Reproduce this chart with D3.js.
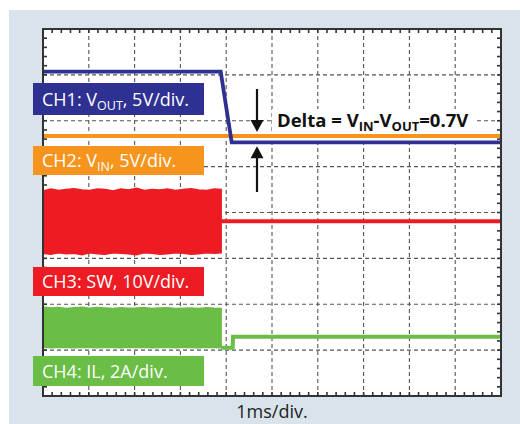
<!DOCTYPE html>
<html>
<head>
<meta charset="utf-8">
<script src="https://cdn.jsdelivr.net/npm/d3@7"></script>
<style>
  html, body { margin: 0; padding: 0; background: #ffffff; }
  svg { display: block; font-family: "Open Sans", "Noto Sans", sans-serif; }
</style>
</head>
<body>
<svg id="scope" width="520" height="424"></svg>
<script>
// ---- Scope settings ----
const timePerDiv = 1;          // ms per horizontal division
const hDivs = 10;
const vDivs = 8;
const minorPerDiv = 5;

// Channel 1 / 2 share ground position and scale so the delta reads directly
const ch12Ground = 3.27;       // divisions from bottom
const ch12Scale = 5;           // V/div
const vin = 12;                // V
const delta = 0.7;             // V, VIN - VOUT in dropout
const vout = vin - delta;      // V

// CH1: VOUT (V)
const ch1Time = [0, 3.88, 4.12, 10];
const ch1Vals = [19, 19, vout, vout];

// CH2: VIN (V)
const ch2Time = [0, 10];
const ch2Vals = [vin, vin];

// Switching envelope sample times (ms)
const bandTime = [0,0.17,0.34,0.51,0.68,0.85,1.02,1.19,1.36,1.53,1.70,1.87,2.04,2.21,2.38,2.55,2.72,2.89,3.06,3.23,3.40,3.57,3.74,3.89];

// CH3: SW node (V), 10V/div
const ch3Ground = 3.12;
const ch3Scale = 10;
const swHigh = [13.5,13.9,13.6,13.8,14.0,13.7,13.6,13.9,13.8,13.5,13.9,13.7,14.1,13.6,13.8,13.7,13.9,13.6,13.8,14.0,13.7,13.6,13.9,13.8];
const swLow  = [-0.1,-0.3,0,-0.2,-0.1,-0.4,0,-0.2,-0.3,0,-0.1,-0.2,-0.4,0,-0.1,-0.3,-0.2,0,-0.1,-0.3,-0.2,0,-0.1,0];
const ch3AfterTime = [3.89, 10];
const ch3AfterVals = [6.9, 6.9];

// CH4: inductor current (A), 2A/div
const ch4Ground = 1.05;
const ch4Scale = 2;
const ilHigh = [1.78,1.74,1.76,1.72,1.75,1.77,1.73,1.76,1.74,1.71,1.75,1.73,1.74,1.76,1.72,1.74,1.75,1.71,1.73,1.74,1.72,1.75,1.73,1.72];
const ilLow  = [0.02,0,0.03,0.01,0,0.02,0.01,0,0.03,0.01,0,0.02,0.01,0.02,0,0.01,0.03,0,0.02,0.01,0,0.02,0.01,0];
const ch4AfterTime = [3.89, 4.14, 4.15, 10];
const ch4AfterVals = [0, 0, 0.48, 0.48];

// Channel label text
const labels = [
  { parts: [["CH1: V"], ["OUT", true], [", 5V/div."]], color: "#2e3192" },
  { parts: [["CH2: V"], ["IN", true], [", 5V/div."]], color: "#f7941d" },
  { parts: [["CH3: SW, 10V/div."]], color: "#ed1c24" },
  { parts: [["CH4: IL, 2A/div."]], color: "#6abd45" }
];
const xAxisTitle = "1ms/div.";

// ---- Layout ----
const svg = d3.select("#scope");
const plot = { left: 43, top: 29, width: 458, height: 367 };

svg.append("rect").attr("x", 9).attr("y", 10).attr("width", 511).attr("height", 414)
  .attr("fill", "#d8e3eb");
svg.append("rect").attr("x", plot.left).attr("y", plot.top)
  .attr("width", plot.width).attr("height", plot.height).attr("fill", "#ffffff");

const x = d3.scaleLinear().domain([0, hDivs * timePerDiv]).range([plot.left, plot.left + plot.width]);
const yDiv = d3.scaleLinear().domain([0, vDivs]).range([plot.top + plot.height, plot.top]);
const chY = (ground, scale) => v => yDiv(ground + v / scale);
const y12 = chY(ch12Ground, ch12Scale);
const y3 = chY(ch3Ground, ch3Scale);
const y4 = chY(ch4Ground, ch4Scale);

// Dashed graticule
const grid = svg.append("g").attr("stroke", "#555").attr("stroke-width", 1.1)
  .attr("stroke-dasharray", "4,3").attr("fill", "none");
d3.range(1, hDivs).forEach(i => {
  grid.append("line").attr("x1", x(i)).attr("x2", x(i))
    .attr("y1", plot.top).attr("y2", plot.top + plot.height);
});
d3.range(1, vDivs).forEach(i => {
  grid.append("line").attr("y1", yDiv(i)).attr("y2", yDiv(i))
    .attr("x1", plot.left).attr("x2", plot.left + plot.width);
});

// Minor ticks along the frame
const ticks = svg.append("g").attr("stroke", "#333").attr("stroke-width", 1.6);
const tl = 4;
d3.range(1, hDivs * minorPerDiv).forEach(i => {
  const xx = x(i / minorPerDiv);
  ticks.append("line").attr("x1", xx).attr("x2", xx).attr("y1", plot.top).attr("y2", plot.top + tl);
  ticks.append("line").attr("x1", xx).attr("x2", xx)
    .attr("y1", plot.top + plot.height).attr("y2", plot.top + plot.height - tl);
});
d3.range(1, vDivs * minorPerDiv).forEach(i => {
  const yy = yDiv(i / minorPerDiv);
  ticks.append("line").attr("y1", yy).attr("y2", yy).attr("x1", plot.left).attr("x2", plot.left + tl);
  ticks.append("line").attr("y1", yy).attr("y2", yy)
    .attr("x1", plot.left + plot.width).attr("x2", plot.left + plot.width - tl);
});

// ---- Traces ----
const traces = svg.append("g");
const line = (ts, vs, yf) => d3.line().x((d, i) => x(ts[i])).y(d => yf(d))(vs);

// CH3 switching envelope + flat level after dropout
const area3 = d3.area().x((d, i) => x(bandTime[i])).y0((d, i) => y3(swLow[i])).y1(d => y3(d));
traces.append("path").attr("d", area3(swHigh)).attr("fill", "#ed1c24")
  .attr("stroke", "#ed1c24").attr("stroke-width", 1.5);
traces.append("path").attr("d", line(ch3AfterTime, ch3AfterVals, y3))
  .attr("fill", "none").attr("stroke", "#ed1c24").attr("stroke-width", 4);

// CH4 inductor current envelope + level after dropout
const area4 = d3.area().x((d, i) => x(bandTime[i])).y0((d, i) => y4(ilLow[i])).y1(d => y4(d));
traces.append("path").attr("d", area4(ilHigh)).attr("fill", "#6abd45")
  .attr("stroke", "#6abd45").attr("stroke-width", 1.5);
traces.append("path").attr("d", line(ch4AfterTime, ch4AfterVals, y4))
  .attr("fill", "none").attr("stroke", "#6abd45").attr("stroke-width", 4);

// CH2 VIN then CH1 VOUT
traces.append("path").attr("d", line(ch2Time, ch2Vals, y12))
  .attr("fill", "none").attr("stroke", "#f7941d").attr("stroke-width", 4);
traces.append("path").attr("d", line(ch1Time, ch1Vals, y12))
  .attr("fill", "none").attr("stroke", "#2e3192").attr("stroke-width", 3.8);

// Frame
svg.append("rect").attr("x", plot.left).attr("y", plot.top)
  .attr("width", plot.width).attr("height", plot.height)
  .attr("fill", "none").attr("stroke", "#333").attr("stroke-width", 2);

// ---- Channel labels ----
const boxes = [
  { y: 83, h: 32 },
  { y: 146, h: 29 },
  { y: 267, h: 29 },
  { y: 356, h: 30 }
];
labels.forEach((lab, i) => {
  const b = boxes[i];
  svg.append("rect").attr("x", 33).attr("y", b.y).attr("width", 171).attr("height", b.h)
    .attr("fill", lab.color);
  const t = svg.append("text").attr("x", 42).attr("y", b.y + b.h / 2 + 6.5)
    .attr("fill", "#ffffff").attr("font-size", 18);
  lab.parts.forEach(([s, sub], j) => {
    const ts = t.append("tspan").text(s);
    if (sub) ts.attr("font-size", 12.5).attr("dy", 4);
    else if (j > 0 && lab.parts[j - 1][1]) ts.attr("dy", -4);
  });
});

// ---- Delta annotation ----
const ax = 257;
const tipDown = y12(vin) - 4;
const tipUp = y12(vout) + 4;
const arrows = svg.append("g").attr("fill", "#111").attr("stroke", "#111");
arrows.append("line").attr("x1", ax).attr("x2", ax).attr("y1", 89).attr("y2", tipDown - 10)
  .attr("stroke-width", 2.2);
arrows.append("path").attr("stroke", "none")
  .attr("d", `M${ax - 6.5},${tipDown - 12} L${ax + 6.5},${tipDown - 12} L${ax},${tipDown} Z`);
arrows.append("line").attr("x1", ax).attr("x2", ax).attr("y1", tipUp + 10).attr("y2", 192)
  .attr("stroke-width", 2.2);
arrows.append("path").attr("stroke", "none")
  .attr("d", `M${ax - 6.5},${tipUp + 12} L${ax + 6.5},${tipUp + 12} L${ax},${tipUp} Z`);

svg.append("rect").attr("x", 272).attr("y", 109).attr("width", 203).attr("height", 22)
  .attr("fill", "#ffffff");
const dt = svg.append("text").attr("x", 277).attr("y", 126.5)
  .attr("font-size", 18.5).attr("font-weight", "bold").attr("fill", "#111");
dt.append("tspan").text("Delta = V");
dt.append("tspan").text("IN").attr("font-size", 13).attr("dy", 4);
dt.append("tspan").text("-V").attr("dy", -4);
dt.append("tspan").text("OUT").attr("font-size", 13).attr("dy", 4);
dt.append("tspan").text("=" + delta + "V").attr("dy", -4);

// ---- Time base label ----
svg.append("text").attr("x", 272).attr("y", 418).attr("text-anchor", "middle")
  .attr("font-size", 18).attr("fill", "#222").text(xAxisTitle);
</script>
</body>
</html>
